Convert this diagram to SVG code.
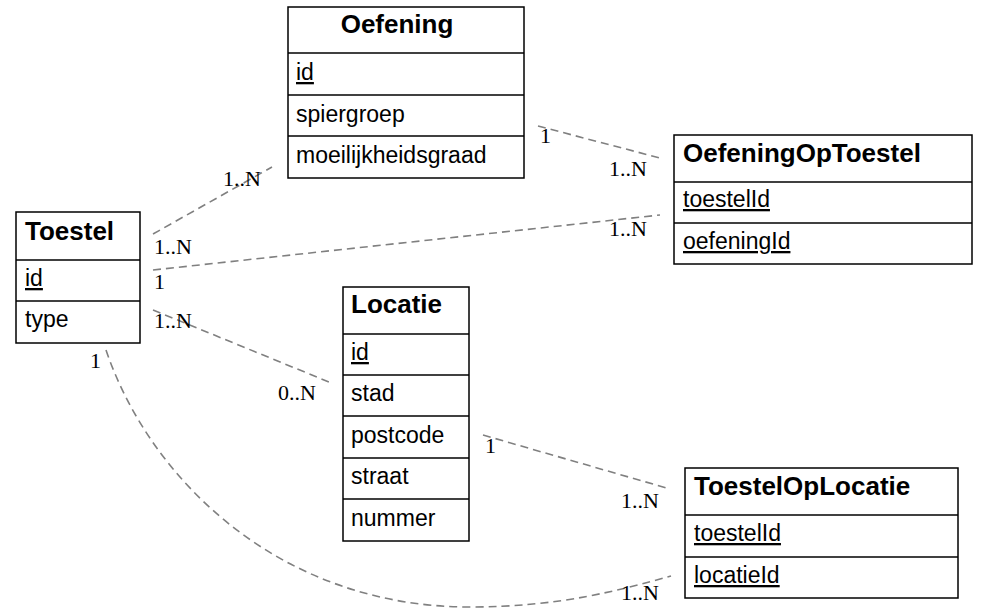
<svg xmlns="http://www.w3.org/2000/svg" width="981" height="611" viewBox="0 0 981 611">
<style>
.box{fill:#fff;stroke:#000;stroke-width:1.5}
.div{stroke:#000;stroke-width:1.5}
.title{font-family:"Liberation Sans",Arial,sans-serif;font-weight:bold;font-size:26px;fill:#000}
.row{font-family:"Liberation Sans",Arial,sans-serif;font-size:23px;fill:#000}
.key{text-decoration:underline}
.conn{fill:none;stroke:#808080;stroke-width:1.6;stroke-dasharray:8,5}
.lbl{font-family:"Liberation Serif","Times New Roman",serif;font-size:22px;fill:#000}
</style>
<rect width="981" height="611" fill="#fff"/>
<g id="connectors">
<path class="conn" d="M153,234 L272,167"/>
<path class="conn" d="M153,270 L660,215"/>
<path class="conn" d="M538,126 L660,158"/>
<path class="conn" d="M153,310 L329,382"/>
<path class="conn" d="M483,435 L670,489"/>
<path class="conn" d="M106,350 C150,480 280,607 470,607 C560,607 620,590 671,576"/>
</g>
<g id="labels">
<text class="lbl" x="223" y="186">1..N</text>
<text class="lbl" x="154" y="254">1..N</text>
<text class="lbl" x="154" y="289">1</text>
<text class="lbl" x="540" y="143">1</text>
<text class="lbl" x="609" y="176">1..N</text>
<text class="lbl" x="609" y="236">1..N</text>
<text class="lbl" x="154" y="328">1..N</text>
<text class="lbl" x="278" y="400">0..N</text>
<text class="lbl" x="485" y="453">1</text>
<text class="lbl" x="621" y="508">1..N</text>
<text class="lbl" x="621" y="600">1..N</text>
<text class="lbl" x="90" y="368">1</text>
</g>
<g id="Oefening">
<rect class="box" x="288" y="7" width="236" height="171"/>
<line class="div" x1="288" y1="53" x2="524" y2="53"/>
<line class="div" x1="288" y1="95" x2="524" y2="95"/>
<line class="div" x1="288" y1="136" x2="524" y2="136"/>
<text class="title" x="397" y="33" text-anchor="middle">Oefening</text>
<text class="row key" x="296" y="80">id</text>
<text class="row" x="296" y="122">spiergroep</text>
<text class="row" x="296" y="163">moeilijkheidsgraad</text>
</g>
<g id="OefeningOpToestel">
<rect class="box" x="674" y="135" width="298" height="129"/>
<line class="div" x1="674" y1="182" x2="972" y2="182"/>
<line class="div" x1="674" y1="223" x2="972" y2="223"/>
<text class="title" x="683" y="162">OefeningOpToestel</text>
<text class="row key" x="683" y="207">toestelId</text>
<text class="row key" x="683" y="249">oefeningId</text>
</g>
<g id="Toestel">
<rect class="box" x="16" y="212" width="124" height="131"/>
<line class="div" x1="16" y1="260" x2="140" y2="260"/>
<line class="div" x1="16" y1="301" x2="140" y2="301"/>
<text class="title" x="25" y="240">Toestel</text>
<text class="row key" x="25" y="286">id</text>
<text class="row" x="25" y="327">type</text>
</g>
<g id="Locatie">
<rect class="box" x="343" y="287" width="126" height="254"/>
<line class="div" x1="343" y1="334" x2="469" y2="334"/>
<line class="div" x1="343" y1="375" x2="469" y2="375"/>
<line class="div" x1="343" y1="416" x2="469" y2="416"/>
<line class="div" x1="343" y1="458" x2="469" y2="458"/>
<line class="div" x1="343" y1="499" x2="469" y2="499"/>
<text class="title" x="351" y="313">Locatie</text>
<text class="row key" x="351" y="360">id</text>
<text class="row" x="351" y="401">stad</text>
<text class="row" x="351" y="443">postcode</text>
<text class="row" x="351" y="484">straat</text>
<text class="row" x="351" y="526">nummer</text>
</g>
<g id="ToestelOpLocatie">
<rect class="box" x="685" y="468" width="273" height="130"/>
<line class="div" x1="685" y1="515" x2="958" y2="515"/>
<line class="div" x1="685" y1="557" x2="958" y2="557"/>
<text class="title" x="694" y="495">ToestelOpLocatie</text>
<text class="row key" x="694" y="541">toestelId</text>
<text class="row key" x="694" y="583">locatieId</text>
</g>
</svg>
